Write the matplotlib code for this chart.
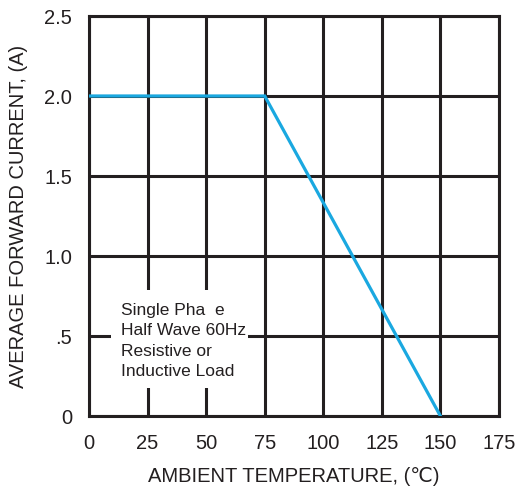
import matplotlib
matplotlib.use("Agg")
import matplotlib.pyplot as plt
from matplotlib.patches import Rectangle

# Data
temp = [0, 75, 150]
current = [2.0, 2.0, 0.0]
x_ticks = [0, 25, 50, 75, 100, 125, 150, 175]
y_ticks = [0, 0.5, 1.0, 1.5, 2.0, 2.5]
y_tick_labels = ["0", ".5", "1.0", "1.5", "2.0", "2.5"]
note_lines = ["Single Pha  e", "Half Wave 60Hz", "Resistive or", "Inductive Load"]

plt.rcParams['font.family'] = ['Liberation Sans', 'DejaVu Sans']

fig = plt.figure(figsize=(5.15, 4.91), dpi=100)
ax = fig.add_axes([89/515, 1 - 416/491, 410/515, 400/491])

grid_color = '#231f20'
ax.set_xlim(0, 175)
ax.set_ylim(0, 2.5)
ax.set_xticks(x_ticks)
ax.set_yticks(y_ticks)
ax.set_yticklabels(y_tick_labels)
ax.tick_params(length=0, labelsize=14.5, pad=12, colors='#231f20')
ax.tick_params(axis='x', pad=13)
ax.grid(True, color=grid_color, linewidth=2.2)
for s in ax.spines.values():
    s.set_color(grid_color)
    s.set_linewidth(2.2)
ax.set_axisbelow(True)

# white note box covering gridlines
ax.add_patch(Rectangle((9.5, 0.175), 58.5, 0.61, facecolor='white',
                       edgecolor='none', zorder=2.5))
ax.text(13.5, 0.47, "\n".join(note_lines), fontsize=12.5, va='center', ha='left',
        linespacing=1.45, color='#231f20', zorder=3)

ax.plot(temp, current, color='#1aa8e0', linewidth=2.3, zorder=4,
        solid_joinstyle='miter')

ax.set_xlabel("AMBIENT TEMPERATURE, (℃)", fontsize=14.5, labelpad=10, color='#231f20')
ax.set_ylabel("AVERAGE FORWARD CURRENT, (A)", fontsize=14.5, labelpad=12, color='#231f20')

fig.savefig("out.png", dpi=100)
